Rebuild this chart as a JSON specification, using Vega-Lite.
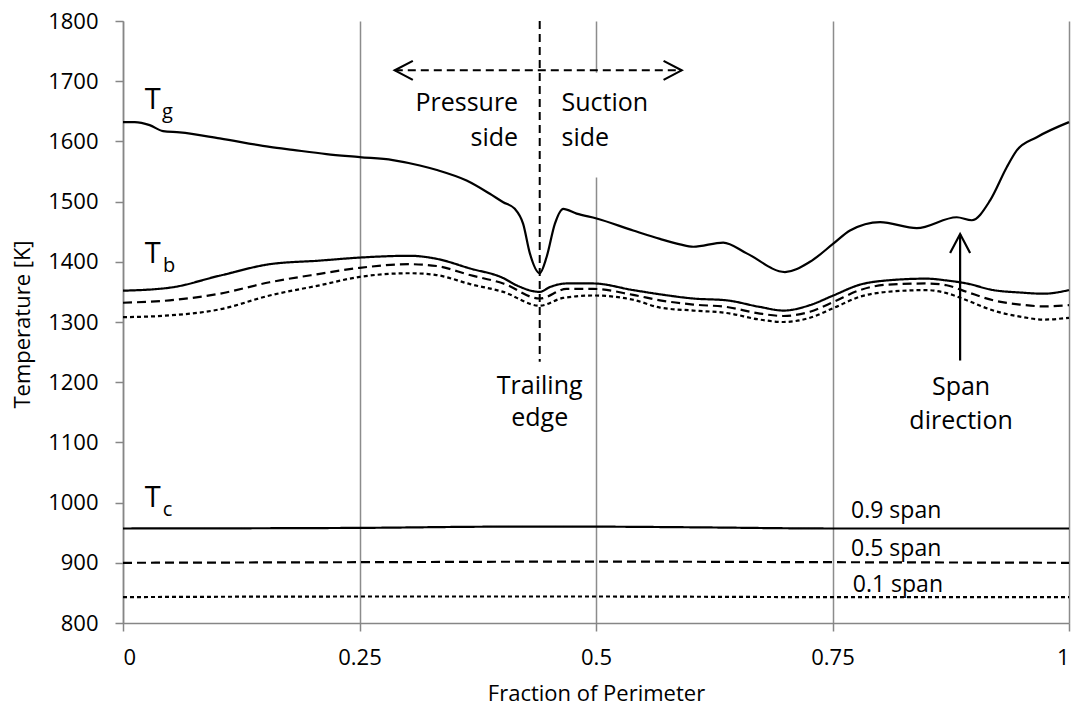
{
  "$schema": "https://vega.github.io/schema/vega-lite/v6.json",
  "width": 946,
  "height": 602,
  "autosize": {"type": "none"},
  "padding": {"left": 123, "top": 21, "right": 6, "bottom": 86},
  "background": "white",
  "config": {
    "view": {"stroke": null},
    "font": "Open Sans",
    "axis": {
      "domainColor": "#868686",
      "domainWidth": 1.5,
      "tickColor": "#868686",
      "tickWidth": 1.5,
      "tickSize": 8,
      "labelFont": "Open Sans",
      "labelFontSize": 22,
      "labelColor": "black",
      "titleFont": "Open Sans",
      "titleFontSize": 22,
      "titleFontWeight": "normal",
      "titleColor": "black"
    }
  },
  "datasets": {
    "tg": [
      {"x": 0, "T": 1632}, {"x": 0.0124, "T": 1632}, {"x": 0.0282, "T": 1627}, {"x": 0.0423, "T": 1617},
      {"x": 0.06, "T": 1615}, {"x": 0.1023, "T": 1605}, {"x": 0.1551, "T": 1591}, {"x": 0.1795, "T": 1586},
      {"x": 0.2151, "T": 1579}, {"x": 0.2503, "T": 1574}, {"x": 0.2852, "T": 1569}, {"x": 0.3138, "T": 1560},
      {"x": 0.3328, "T": 1552}, {"x": 0.3632, "T": 1535}, {"x": 0.3878, "T": 1513}, {"x": 0.4019, "T": 1499},
      {"x": 0.4142, "T": 1488}, {"x": 0.423, "T": 1463}, {"x": 0.4301, "T": 1414}, {"x": 0.4405, "T": 1381},
      {"x": 0.4478, "T": 1408}, {"x": 0.4565, "T": 1463}, {"x": 0.4653, "T": 1488}, {"x": 0.4795, "T": 1480},
      {"x": 0.5006, "T": 1472}, {"x": 0.5393, "T": 1452}, {"x": 0.5676, "T": 1438}, {"x": 0.5887, "T": 1429},
      {"x": 0.6028, "T": 1425}, {"x": 0.6345, "T": 1432}, {"x": 0.6593, "T": 1414}, {"x": 0.6998, "T": 1383},
      {"x": 0.7262, "T": 1400}, {"x": 0.7508, "T": 1430}, {"x": 0.7685, "T": 1452}, {"x": 0.8003, "T": 1466},
      {"x": 0.8391, "T": 1456}, {"x": 0.8813, "T": 1474}, {"x": 0.8972, "T": 1469}, {"x": 0.9166, "T": 1502},
      {"x": 0.9342, "T": 1557}, {"x": 0.9448, "T": 1585}, {"x": 0.966, "T": 1607}, {"x": 1, "T": 1632}
    ],
    "spans": [
      {"curve": "Tb 0.9", "span": "0.9 span", "x": 0, "T": 1352},
      {"curve": "Tb 0.9", "span": "0.9 span", "x": 0.0494, "T": 1357},
      {"curve": "Tb 0.9", "span": "0.9 span", "x": 0.1023, "T": 1377},
      {"curve": "Tb 0.9", "span": "0.9 span", "x": 0.155, "T": 1396},
      {"curve": "Tb 0.9", "span": "0.9 span", "x": 0.208, "T": 1402},
      {"curve": "Tb 0.9", "span": "0.9 span", "x": 0.2503, "T": 1407},
      {"curve": "Tb 0.9", "span": "0.9 span", "x": 0.3032, "T": 1410},
      {"curve": "Tb 0.9", "span": "0.9 span", "x": 0.3314, "T": 1405},
      {"curve": "Tb 0.9", "span": "0.9 span", "x": 0.3667, "T": 1389},
      {"curve": "Tb 0.9", "span": "0.9 span", "x": 0.4019, "T": 1373},
      {"curve": "Tb 0.9", "span": "0.9 span", "x": 0.416, "T": 1361},
      {"curve": "Tb 0.9", "span": "0.9 span", "x": 0.4405, "T": 1350},
      {"curve": "Tb 0.9", "span": "0.9 span", "x": 0.4512, "T": 1358},
      {"curve": "Tb 0.9", "span": "0.9 span", "x": 0.4689, "T": 1364},
      {"curve": "Tb 0.9", "span": "0.9 span", "x": 0.497, "T": 1364},
      {"curve": "Tb 0.9", "span": "0.9 span", "x": 0.5393, "T": 1353},
      {"curve": "Tb 0.9", "span": "0.9 span", "x": 0.5676, "T": 1346},
      {"curve": "Tb 0.9", "span": "0.9 span", "x": 0.6028, "T": 1339},
      {"curve": "Tb 0.9", "span": "0.9 span", "x": 0.6381, "T": 1336},
      {"curve": "Tb 0.9", "span": "0.9 span", "x": 0.6733, "T": 1325},
      {"curve": "Tb 0.9", "span": "0.9 span", "x": 0.698, "T": 1319},
      {"curve": "Tb 0.9", "span": "0.9 span", "x": 0.7262, "T": 1328},
      {"curve": "Tb 0.9", "span": "0.9 span", "x": 0.7508, "T": 1344},
      {"curve": "Tb 0.9", "span": "0.9 span", "x": 0.779, "T": 1362},
      {"curve": "Tb 0.9", "span": "0.9 span", "x": 0.8073, "T": 1369},
      {"curve": "Tb 0.9", "span": "0.9 span", "x": 0.8496, "T": 1372},
      {"curve": "Tb 0.9", "span": "0.9 span", "x": 0.8707, "T": 1369},
      {"curve": "Tb 0.9", "span": "0.9 span", "x": 0.8919, "T": 1364},
      {"curve": "Tb 0.9", "span": "0.9 span", "x": 0.92, "T": 1353},
      {"curve": "Tb 0.9", "span": "0.9 span", "x": 0.9482, "T": 1349},
      {"curve": "Tb 0.9", "span": "0.9 span", "x": 0.9729, "T": 1347},
      {"curve": "Tb 0.9", "span": "0.9 span", "x": 1, "T": 1353},

      {"curve": "Tb 0.5", "span": "0.5 span", "x": 0, "T": 1332},
      {"curve": "Tb 0.5", "span": "0.5 span", "x": 0.0494, "T": 1336},
      {"curve": "Tb 0.5", "span": "0.5 span", "x": 0.1023, "T": 1347},
      {"curve": "Tb 0.5", "span": "0.5 span", "x": 0.155, "T": 1366},
      {"curve": "Tb 0.5", "span": "0.5 span", "x": 0.208, "T": 1380},
      {"curve": "Tb 0.5", "span": "0.5 span", "x": 0.2503, "T": 1390},
      {"curve": "Tb 0.5", "span": "0.5 span", "x": 0.3032, "T": 1396},
      {"curve": "Tb 0.5", "span": "0.5 span", "x": 0.3314, "T": 1393},
      {"curve": "Tb 0.5", "span": "0.5 span", "x": 0.3667, "T": 1378},
      {"curve": "Tb 0.5", "span": "0.5 span", "x": 0.4019, "T": 1364},
      {"curve": "Tb 0.5", "span": "0.5 span", "x": 0.4405, "T": 1339},
      {"curve": "Tb 0.5", "span": "0.5 span", "x": 0.4689, "T": 1355},
      {"curve": "Tb 0.5", "span": "0.5 span", "x": 0.497, "T": 1355},
      {"curve": "Tb 0.5", "span": "0.5 span", "x": 0.5393, "T": 1345},
      {"curve": "Tb 0.5", "span": "0.5 span", "x": 0.5676, "T": 1336},
      {"curve": "Tb 0.5", "span": "0.5 span", "x": 0.6028, "T": 1329},
      {"curve": "Tb 0.5", "span": "0.5 span", "x": 0.6381, "T": 1325},
      {"curve": "Tb 0.5", "span": "0.5 span", "x": 0.6733, "T": 1314},
      {"curve": "Tb 0.5", "span": "0.5 span", "x": 0.698, "T": 1310},
      {"curve": "Tb 0.5", "span": "0.5 span", "x": 0.7262, "T": 1317},
      {"curve": "Tb 0.5", "span": "0.5 span", "x": 0.7508, "T": 1333},
      {"curve": "Tb 0.5", "span": "0.5 span", "x": 0.779, "T": 1353},
      {"curve": "Tb 0.5", "span": "0.5 span", "x": 0.8073, "T": 1362},
      {"curve": "Tb 0.5", "span": "0.5 span", "x": 0.8496, "T": 1364},
      {"curve": "Tb 0.5", "span": "0.5 span", "x": 0.8707, "T": 1361},
      {"curve": "Tb 0.5", "span": "0.5 span", "x": 0.8919, "T": 1350},
      {"curve": "Tb 0.5", "span": "0.5 span", "x": 0.92, "T": 1336},
      {"curve": "Tb 0.5", "span": "0.5 span", "x": 0.9482, "T": 1329},
      {"curve": "Tb 0.5", "span": "0.5 span", "x": 0.9729, "T": 1326},
      {"curve": "Tb 0.5", "span": "0.5 span", "x": 1, "T": 1328},

      {"curve": "Tb 0.1", "span": "0.1 span", "x": 0, "T": 1308},
      {"curve": "Tb 0.1", "span": "0.1 span", "x": 0.0494, "T": 1311},
      {"curve": "Tb 0.1", "span": "0.1 span", "x": 0.1023, "T": 1321},
      {"curve": "Tb 0.1", "span": "0.1 span", "x": 0.155, "T": 1344},
      {"curve": "Tb 0.1", "span": "0.1 span", "x": 0.208, "T": 1361},
      {"curve": "Tb 0.1", "span": "0.1 span", "x": 0.2503, "T": 1375},
      {"curve": "Tb 0.1", "span": "0.1 span", "x": 0.3032, "T": 1381},
      {"curve": "Tb 0.1", "span": "0.1 span", "x": 0.3314, "T": 1378},
      {"curve": "Tb 0.1", "span": "0.1 span", "x": 0.3667, "T": 1363},
      {"curve": "Tb 0.1", "span": "0.1 span", "x": 0.4019, "T": 1350},
      {"curve": "Tb 0.1", "span": "0.1 span", "x": 0.4405, "T": 1327},
      {"curve": "Tb 0.1", "span": "0.1 span", "x": 0.4653, "T": 1340},
      {"curve": "Tb 0.1", "span": "0.1 span", "x": 0.497, "T": 1344},
      {"curve": "Tb 0.1", "span": "0.1 span", "x": 0.5393, "T": 1337},
      {"curve": "Tb 0.1", "span": "0.1 span", "x": 0.5676, "T": 1324},
      {"curve": "Tb 0.1", "span": "0.1 span", "x": 0.6028, "T": 1319},
      {"curve": "Tb 0.1", "span": "0.1 span", "x": 0.6381, "T": 1315},
      {"curve": "Tb 0.1", "span": "0.1 span", "x": 0.6733, "T": 1304},
      {"curve": "Tb 0.1", "span": "0.1 span", "x": 0.698, "T": 1300},
      {"curve": "Tb 0.1", "span": "0.1 span", "x": 0.7262, "T": 1307},
      {"curve": "Tb 0.1", "span": "0.1 span", "x": 0.7508, "T": 1323},
      {"curve": "Tb 0.1", "span": "0.1 span", "x": 0.779, "T": 1342},
      {"curve": "Tb 0.1", "span": "0.1 span", "x": 0.8073, "T": 1350},
      {"curve": "Tb 0.1", "span": "0.1 span", "x": 0.8496, "T": 1353},
      {"curve": "Tb 0.1", "span": "0.1 span", "x": 0.8707, "T": 1348},
      {"curve": "Tb 0.1", "span": "0.1 span", "x": 0.8919, "T": 1336},
      {"curve": "Tb 0.1", "span": "0.1 span", "x": 0.92, "T": 1319},
      {"curve": "Tb 0.1", "span": "0.1 span", "x": 0.9482, "T": 1309},
      {"curve": "Tb 0.1", "span": "0.1 span", "x": 0.9729, "T": 1304},
      {"curve": "Tb 0.1", "span": "0.1 span", "x": 1, "T": 1307},

      {"curve": "Tc 0.9", "span": "0.9 span", "x": 0, "T": 957},
      {"curve": "Tc 0.9", "span": "0.9 span", "x": 0.25, "T": 958},
      {"curve": "Tc 0.9", "span": "0.9 span", "x": 0.4, "T": 960},
      {"curve": "Tc 0.9", "span": "0.9 span", "x": 0.5, "T": 960},
      {"curve": "Tc 0.9", "span": "0.9 span", "x": 0.6, "T": 959},
      {"curve": "Tc 0.9", "span": "0.9 span", "x": 0.75, "T": 957},
      {"curve": "Tc 0.9", "span": "0.9 span", "x": 1, "T": 957},

      {"curve": "Tc 0.5", "span": "0.5 span", "x": 0, "T": 900},
      {"curve": "Tc 0.5", "span": "0.5 span", "x": 0.25, "T": 901},
      {"curve": "Tc 0.5", "span": "0.5 span", "x": 0.5, "T": 902},
      {"curve": "Tc 0.5", "span": "0.5 span", "x": 0.75, "T": 901},
      {"curve": "Tc 0.5", "span": "0.5 span", "x": 1, "T": 900},

      {"curve": "Tc 0.1", "span": "0.1 span", "x": 0, "T": 843},
      {"curve": "Tc 0.1", "span": "0.1 span", "x": 0.25, "T": 844},
      {"curve": "Tc 0.1", "span": "0.1 span", "x": 0.5, "T": 844},
      {"curve": "Tc 0.1", "span": "0.1 span", "x": 0.75, "T": 843},
      {"curve": "Tc 0.1", "span": "0.1 span", "x": 1, "T": 843}
    ],
    "box": [
      {"x": 0.462, "x2": 0.578, "T": 1714, "T2": 1540}
    ],
    "dashedRules": [
      {"x": 0.4405, "x2": 0.4405, "T": 1800, "T2": 1234},
      {"x": 0.2873, "x2": 0.5905, "T": 1718, "T2": 1718}
    ],
    "solidRules": [
      {"x": 0.8849, "x2": 0.8849, "T": 1236, "T2": 1446}
    ],
    "leftHead": [{"x": 0.2873, "T": 1718}],
    "rightHead": [{"x": 0.5905, "T": 1718}],
    "upHead": [{"x": 0.8849, "T": 1446}],
    "labels": [
      {"style": "big", "text": "T", "x": 0.0229, "T": 1654},
      {"style": "sub", "text": "g", "x": 0.0412, "T": 1639},
      {"style": "big", "text": "T", "x": 0.0229, "T": 1398},
      {"style": "sub", "text": "b", "x": 0.0423, "T": 1383},
      {"style": "big", "text": "T", "x": 0.0229, "T": 992},
      {"style": "sub", "text": "c", "x": 0.042, "T": 977},
      {"style": "center", "text": "Trailing", "x": 0.4405, "T": 1181},
      {"style": "center", "text": "edge", "x": 0.4405, "T": 1127},
      {"style": "center", "text": "Span", "x": 0.8859, "T": 1179},
      {"style": "center", "text": "direction", "x": 0.8859, "T": 1123},
      {"style": "right", "text": "Pressure", "x": 0.4177, "T": 1650},
      {"style": "right", "text": "side", "x": 0.4177, "T": 1592},
      {"style": "left", "text": "Suction", "x": 0.4636, "T": 1650},
      {"style": "left", "text": "side", "x": 0.4636, "T": 1592},
      {"style": "span", "text": "0.9 span", "x": 0.7696, "T": 975},
      {"style": "span", "text": "0.5 span", "x": 0.7696, "T": 911},
      {"style": "span", "text": "0.1 span", "x": 0.7714, "T": 851.5}
    ]
  },
  "encoding": {
    "x": {
      "field": "x",
      "type": "quantitative",
      "scale": {"domain": [0, 1], "nice": false, "zero": false},
      "axis": {
        "values": [0, 0.25, 0.5, 0.75, 1],
        "format": ".2~f",
        "grid": true,
        "gridColor": "#8c8c8c",
        "gridWidth": 1.5,
        "labelPadding": 16,
        "title": "Fraction of Perimeter",
        "titleFontSize": 22,
        "titleY": 70,
        "titleBaseline": "middle"
      }
    },
    "y": {
      "field": "T",
      "type": "quantitative",
      "scale": {"domain": [800, 1800], "nice": false, "zero": false},
      "axis": {
        "values": [800, 900, 1000, 1100, 1200, 1300, 1400, 1500, 1600, 1700, 1800],
        "format": "d",
        "grid": false,
        "labelPadding": 17,
        "title": "Temperature [K]",
        "titleFontSize": 22,
        "titleX": -101,
        "titleY": 303,
        "titleAngle": -90,
        "titleAlign": "center",
        "titleBaseline": "middle"
      }
    }
  },
  "layer": [
    {
      "data": {"name": "box"},
      "mark": {"type": "rect", "fill": "white", "stroke": null},
      "encoding": {"x2": {"field": "x2"}, "y2": {"field": "T2"}}
    },
    {
      "data": {"name": "tg"},
      "mark": {"type": "line", "color": "black", "strokeWidth": 2.2, "interpolate": "monotone"},
      "encoding": {}
    },
    {
      "data": {"name": "spans"},
      "mark": {"type": "line", "color": "black", "strokeWidth": 2.2, "interpolate": "monotone"},
      "encoding": {
        "detail": {"field": "curve"},
        "strokeDash": {
          "field": "span",
          "type": "nominal",
          "scale": {"domain": ["0.9 span", "0.5 span", "0.1 span"], "range": [[1, 0], [9, 5], [4, 3]]},
          "legend": null
        }
      }
    },
    {
      "data": {"name": "dashedRules"},
      "mark": {"type": "rule", "color": "black", "strokeWidth": 2, "strokeDash": [8, 5]},
      "encoding": {"x2": {"field": "x2"}, "y2": {"field": "T2"}}
    },
    {
      "data": {"name": "solidRules"},
      "mark": {"type": "rule", "color": "black", "strokeWidth": 2.2},
      "encoding": {"x2": {"field": "x2"}, "y2": {"field": "T2"}}
    },
    {
      "data": {"name": "leftHead"},
      "mark": {"type": "point", "shape": "M1.9,-1L0,0L1.9,1", "size": 361, "filled": false, "stroke": "black", "strokeWidth": 2.2, "opacity": 1}
    },
    {
      "data": {"name": "rightHead"},
      "mark": {"type": "point", "shape": "M-1.9,-1L0,0L-1.9,1", "size": 361, "filled": false, "stroke": "black", "strokeWidth": 2.2, "opacity": 1}
    },
    {
      "data": {"name": "upHead"},
      "mark": {"type": "point", "shape": "M-1,1.9L0,0L1,1.9", "size": 400, "filled": false, "stroke": "black", "strokeWidth": 2.2, "opacity": 1}
    },
    {
      "data": {"name": "labels"},
      "transform": [{"filter": "datum.style === 'big'"}],
      "mark": {"type": "text", "fontSize": 29, "align": "left", "baseline": "alphabetic", "color": "black"},
      "encoding": {"text": {"field": "text"}}
    },
    {
      "data": {"name": "labels"},
      "transform": [{"filter": "datum.style === 'sub'"}],
      "mark": {"type": "text", "fontSize": 20, "align": "left", "baseline": "alphabetic", "color": "black"},
      "encoding": {"text": {"field": "text"}}
    },
    {
      "data": {"name": "labels"},
      "transform": [{"filter": "datum.style === 'center'"}],
      "mark": {"type": "text", "fontSize": 25, "align": "center", "baseline": "alphabetic", "color": "black"},
      "encoding": {"text": {"field": "text"}}
    },
    {
      "data": {"name": "labels"},
      "transform": [{"filter": "datum.style === 'right'"}],
      "mark": {"type": "text", "fontSize": 25, "align": "right", "baseline": "alphabetic", "color": "black"},
      "encoding": {"text": {"field": "text"}}
    },
    {
      "data": {"name": "labels"},
      "transform": [{"filter": "datum.style === 'left'"}],
      "mark": {"type": "text", "fontSize": 25, "align": "left", "baseline": "alphabetic", "color": "black"},
      "encoding": {"text": {"field": "text"}}
    },
    {
      "data": {"name": "labels"},
      "transform": [{"filter": "datum.style === 'span'"}],
      "mark": {"type": "text", "fontSize": 23, "align": "left", "baseline": "alphabetic", "color": "black"},
      "encoding": {"text": {"field": "text"}}
    }
  ]
}
